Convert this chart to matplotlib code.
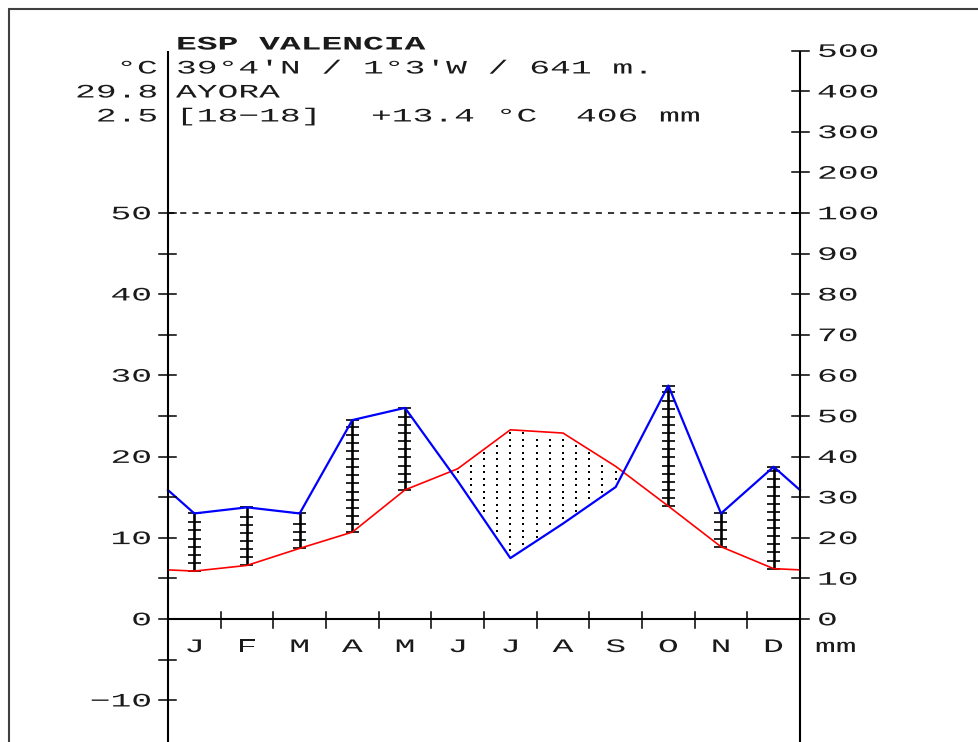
import numpy as np
import matplotlib
matplotlib.use("Agg")
import matplotlib.pyplot as plt
from matplotlib.patheffects import AbstractPathEffect
from matplotlib.transforms import Affine2D

# ---- climate data: Ayora (Valencia) ----
months = ["J", "F", "M", "A", "M", "J", "J", "A", "S", "O", "N", "D"]
temp_c = [5.9, 6.6, 8.7, 10.7, 15.9, 18.5, 23.3, 22.9, 18.8, 13.9, 8.9, 6.2]
precip_mm = [26.0, 27.5, 26.0, 49.0, 52.0, 34.0, 15.0, 23.5, 32.5, 57.5, 26.0, 37.5]

temp_ticks = [-10, 0, 10, 20, 30, 40, 50]
precip_ticks = [0, 10, 20, 30, 40, 50, 60, 70, 80, 90, 100, 200, 300, 400, 500]

title = "ESP VALENCIA"
header_left = ["\u00b0C", "29.8", "2.5"]
station_coords = "39\u00b04'N / 1\u00b03'W / 641 m."
station_name = "AYORA"
period = "[18\u221218]"
mean_temp = "+13.4 \u00b0C"
annual_precip = "406 mm"

# ---- geometry (pixels) ----
W, H = 979, 742
X0, X1 = 168, 800           # left / right axis
Y0 = 619                    # 0 degC baseline
PXM = (X1 - X0) / 12.0      # pixels per month
PXD = 8.12                  # pixels per degC


def px_x(px):
    return (px - X0) / PXM


def px_y(py):
    return (Y0 - py) / PXD


def p2t(p):
    """Precipitation (mm) to the temperature scale: 2 mm per degC up to 100 mm,
    then 20 mm per degC."""
    p = np.asarray(p, dtype=float)
    return np.where(p <= 100, p / 2.0, 50 + (p - 100) / 20.0)


class Stretch(AbstractPathEffect):
    """Draw text glyphs widened horizontally around an anchor."""

    def __init__(self, sx, pivot="left"):
        super().__init__()
        self.sx = sx
        self.pivot = pivot

    def draw_path(self, renderer, gc, tpath, affine, rgbFace=None):
        ext = tpath.get_extents()
        if self.pivot == "left":
            px = 0.0
        elif self.pivot == "right":
            px = ext.x1
        else:
            px = 0.5 * (ext.x0 + ext.x1)
        t = Affine2D().translate(-px, 0).scale(self.sx, 1).translate(px, 0)
        renderer.draw_path(gc, tpath, t + affine, rgbFace)


FONT = "Liberation Mono"
FS = 13.7
SX = 1.82
TXT = "#1a1a1a"


def label(x, y, s, ha="left", bold=False):
    ax.text(x, y, s, ha=ha, va="baseline", family=FONT, fontsize=FS,
            fontweight="bold" if bold else "normal", color=TXT,
            path_effects=[Stretch(SX, ha)])


fig = plt.figure(figsize=(W / 100, H / 100), dpi=100)
ax = fig.add_axes([0, 0, 1, 1])
ax.set_xlim(px_x(0), px_x(W))
ax.set_ylim(px_y(H), px_y(0))
ax.axis("off")

# outer frame
ax.plot([px_x(8), px_x(W)], [px_y(9), px_y(9)], color="#404040", lw=1.5,
        solid_capstyle="butt")
ax.plot([px_x(9), px_x(9)], [px_y(9), px_y(H)], color="#404040", lw=1.5,
        solid_capstyle="butt")

# ---- series on month centres, closed at the edges with the Dec/Jan mean ----
t = np.array(temp_c)
pe = p2t(precip_mm)
xc = np.arange(12) + 0.5
xs = np.concatenate([[0], xc, [12]])
t_edge = (t[0] + t[-1]) / 2
p_edge = (pe[0] + pe[-1]) / 2
ts = np.concatenate([[t_edge], t, [t_edge]])
ps = np.concatenate([[p_edge], pe, [p_edge]])

# dry period: dotted area where precipitation lies below temperature
dx, dy = 0.25, 0.8
gx = np.arange(0.5 - 2 * dx, 12, dx)
gy = np.arange(0.47, 60, dy)
GX, GY = np.meshgrid(gx, gy)
tt = np.interp(GX, xs, ts)
pp = np.interp(GX, xs, ps)
m = (GY < tt - 0.3) & (GY > pp + 0.3) & (GX > 0.05) & (GX < 11.95)
ax.scatter(GX[m], GY[m], s=2.6, marker="s", color="black", linewidths=0, zorder=2)

# humid period: vertical rulers from temperature to precipitation
tick_hw = 6.5 / PXM
for xi, ti, pi in zip(xc, t, pe):
    if pi > ti:
        ax.plot([xi, xi], [ti, pi], color="black", lw=1.9, zorder=3,
                solid_capstyle="butt")
        ys = list(ti + np.arange(0, pi - ti - 0.4, 1.0)) + [pi]
        ax.hlines(ys, xi - tick_hw, xi + tick_hw, color="black", lw=1.2, zorder=3)

ax.plot(xs, ts, color="#ff0000", lw=1.2, zorder=4)
ax.plot(xs, ps, color="#0000ff", lw=1.6, zorder=5)

# ---- axes ----
top = 70
bottom = px_y(H)
ax.plot([0, 0], [bottom, top], color="black", lw=1.5, solid_capstyle="butt", zorder=6)
ax.plot([12, 12], [bottom, top], color="black", lw=1.5, solid_capstyle="butt", zorder=6)
ax.plot([0, 12], [0, 0], color="black", lw=1.5, solid_capstyle="butt", zorder=6)
ax.plot([0, 12], [50, 50], color="black", lw=1.1, linestyle=(0, (4, 4)), zorder=1)

hx = 9 / PXM
hy = 9 / PXD
# left axis: tick every 5 degC, label every 10
for v in np.arange(-10, 51, 5):
    ax.plot([-hx, hx * 0.9], [v, v], color="black", lw=1.1, zorder=6)
for v in temp_ticks:
    label(px_x(151), v - 6.3 / PXD, "\u2212" + str(-v) if v < 0 else str(v), ha="right")

# right axis
for p in precip_ticks:
    v = float(p2t(p))
    ax.plot([12 - hx * 0.9, 12 + hx], [v, v], color="black", lw=1.1, zorder=6)
    label(px_x(817), v - 6.3 / PXD, str(p), ha="left")

# month boundaries and labels
for k in range(1, 12):
    ax.plot([k, k], [hy * 0.8, -hy], color="black", lw=1.1, zorder=6)
for xi, mname in zip(xc, months):
    label(xi, px_y(652), mname, ha="center")
label(px_x(815), px_y(652), "mm", ha="left")

# ---- header ----
label(px_x(176), px_y(49.5), title, bold=True)
rows = [[(176, station_coords)],
        [(176, station_name)],
        [(176, period), (371, mean_temp), (576, annual_precip)]]
for i, (l, pieces) in enumerate(zip(header_left, rows)):
    yb = px_y(73.5 + 24 * i)
    label(px_x(157), yb, l, ha="right")
    for xp, s in pieces:
        label(px_x(xp), yb, s, ha="left")

fig.savefig("out.png", dpi=100)
